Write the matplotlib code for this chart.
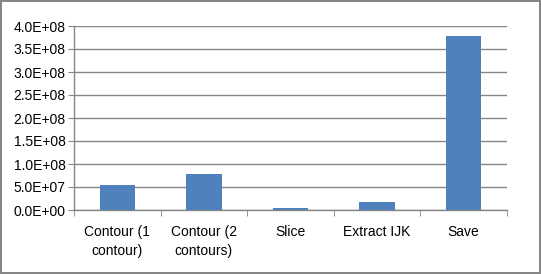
import matplotlib
matplotlib.use("Agg")
import matplotlib.pyplot as plt
from matplotlib.ticker import FuncFormatter, FixedLocator
import numpy as np

categories = ["Contour (1\ncontour)", "Contour (2\ncontours)", "Slice", "Extract IJK", "Save"]
values = [5.45e7, 7.85e7, 4.5e6, 1.75e7, 3.78e8]
yticks = [0, 5e7, 1e8, 1.5e8, 2e8, 2.5e8, 3e8, 3.5e8, 4e8]

plt.rcParams['font.family'] = ['Liberation Sans', 'DejaVu Sans']

fig = plt.figure(figsize=(5.41, 2.74), dpi=100)
fig.patch.set_facecolor('white')
fig.patch.set_edgecolor('#868686')
fig.patch.set_linewidth(1.5)

ax = fig.add_axes([74/541, 1-210/274, (507-74)/541, (210-26)/274])
x = np.arange(len(categories))
ax.bar(x, values, width=0.41, color='#4F81BD', zorder=3)

ax.set_xlim(-0.5, len(categories)-0.5)
ax.set_ylim(0, 4e8)
ax.set_yticks(yticks)
ax.yaxis.set_major_formatter(FuncFormatter(lambda v, p: f"{v:.1E}"))
ax.grid(axis='y', color='#868686', linewidth=1, zorder=0)

ax.set_xticks(x)
ax.set_xticklabels(categories, fontsize=10, linespacing=1.45)
ax.xaxis.set_minor_locator(FixedLocator(np.arange(-0.5, len(categories), 1.0)))
ax.tick_params(axis='x', which='major', length=0, pad=11)
ax.tick_params(axis='x', which='minor', length=4, color='#868686', direction='out')
ax.tick_params(axis='y', length=4, color='#868686', direction='out', labelsize=10, pad=2)

for s in ['top', 'right']:
    ax.spines[s].set_visible(False)
for s in ['left', 'bottom']:
    ax.spines[s].set_color('#868686')
    ax.spines[s].set_linewidth(1)

fig.savefig("out.png", dpi=100, facecolor=fig.get_facecolor(), edgecolor=fig.get_edgecolor())
